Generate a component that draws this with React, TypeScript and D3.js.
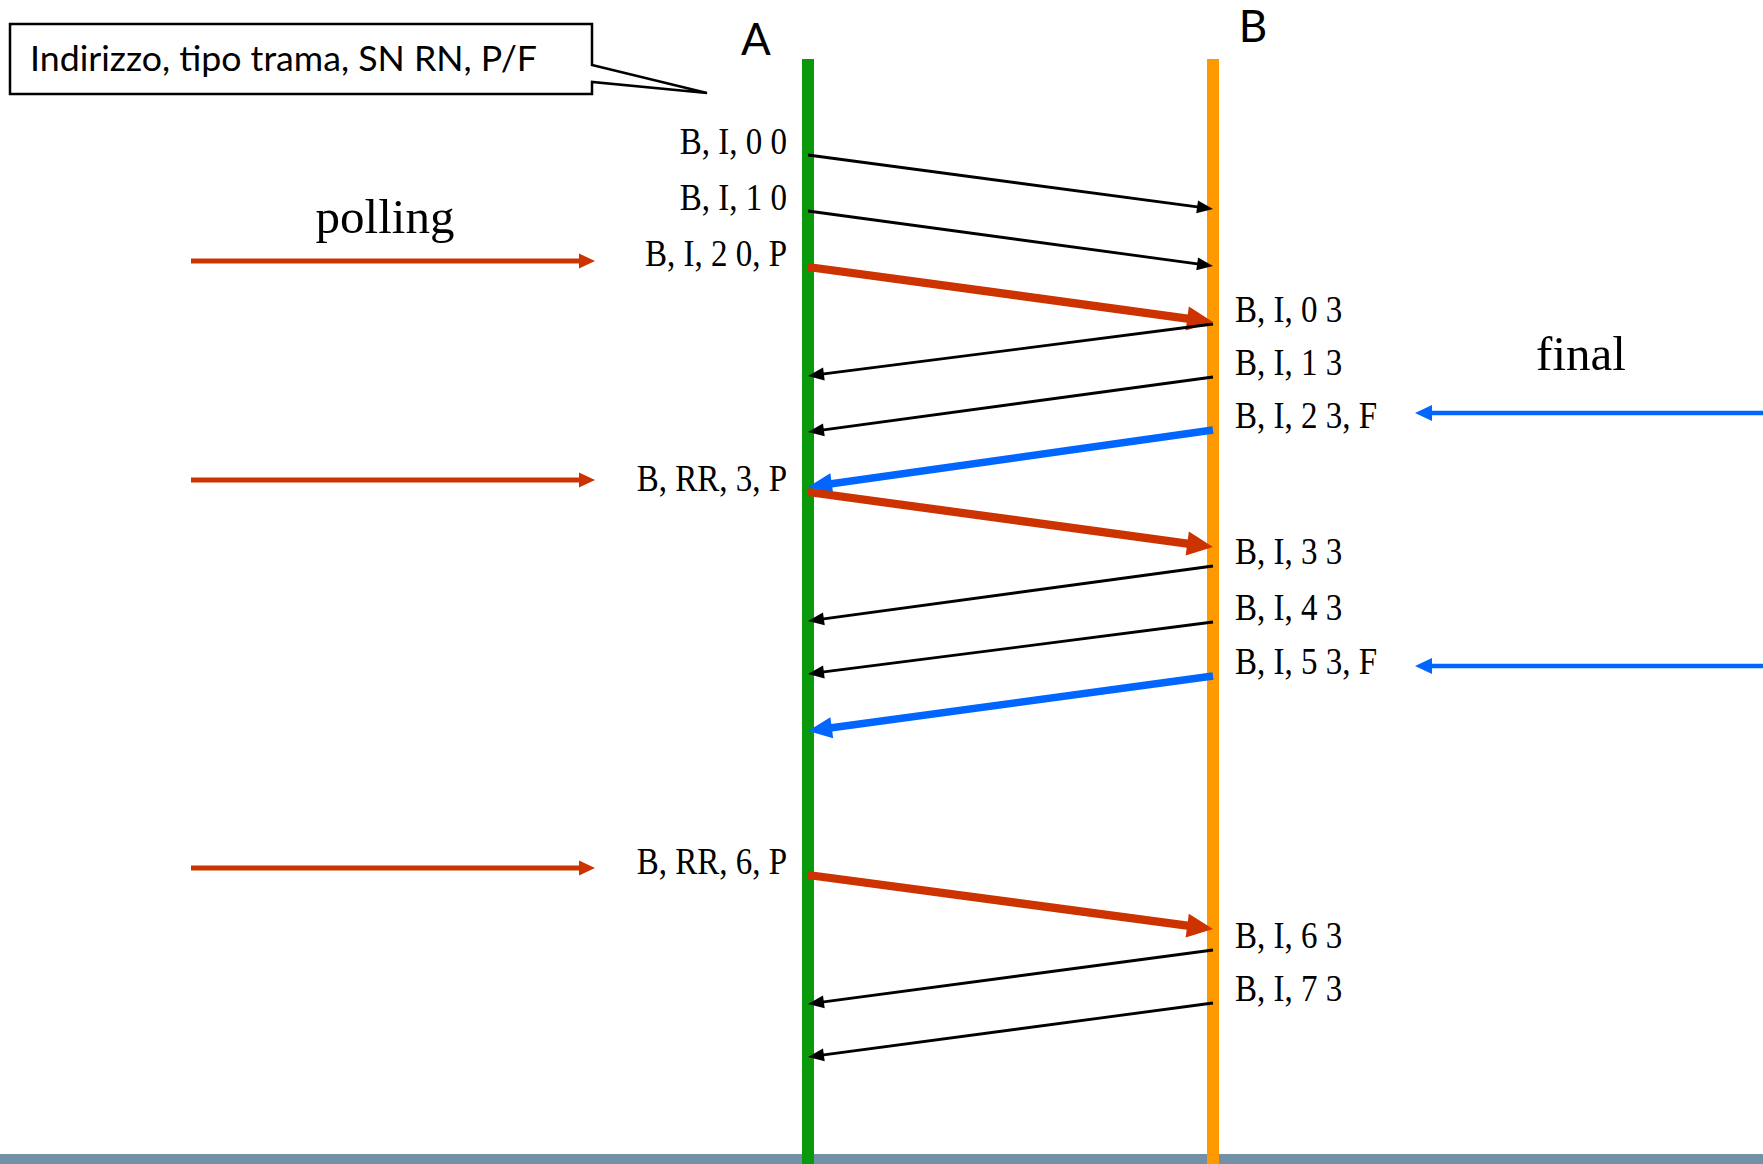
import React from "react";
import * as d3 from "d3";

const W = 1763;
const H = 1164;

// stations (vertical timelines)
const stations = ["A", "B"];

// frames exchanged: label, sender, send time, receive time, kind
const messages = [
  { label: "B, I, 0 0", from: "A", t0: 155, t1: 209, kind: "data" },
  { label: "B, I, 1 0", from: "A", t0: 211, t1: 266, kind: "data" },
  { label: "B, I, 2 0, P", from: "A", t0: 267, t1: 322, kind: "poll" },
  { label: "B, I, 0 3", from: "B", t0: 324, t1: 376, kind: "data" },
  { label: "B, I, 1 3", from: "B", t0: 377, t1: 432, kind: "data" },
  { label: "B, I, 2 3, F", from: "B", t0: 430, t1: 487, kind: "final" },
  { label: "B, RR, 3, P", from: "A", t0: 492, t1: 547, kind: "poll" },
  { label: "B, I, 3 3", from: "B", t0: 566, t1: 621, kind: "data" },
  { label: "B, I, 4 3", from: "B", t0: 622, t1: 674, kind: "data" },
  { label: "B, I, 5 3, F", from: "B", t0: 676, t1: 731, kind: "final" },
  { label: "B, RR, 6, P", from: "A", t0: 875, t1: 929, kind: "poll" },
  { label: "B, I, 6 3", from: "B", t0: 950, t1: 1004, kind: "data" },
  { label: "B, I, 7 3", from: "B", t0: 1003, t1: 1057, kind: "data" },
];

// times of the "polling" markers and the "final" markers
const pollMarks = [261, 480, 868];
const finalMarks = [413, 666];

const calloutText = "Indirizzo, tipo trama, SN RN, P/F";

const COLORS = {
  A: "#0a990a",
  B: "#ff9900",
  data: "#000000",
  poll: "#cc3300",
  final: "#0066ff",
  bar: "#7290a6",
};

const STYLE: Record<string, { w: number; len: number; half: number }> = {
  data: { w: 2.8, len: 16, half: 6.5 },
  poll: { w: 8.3, len: 26, half: 12 },
  final: { w: 7.5, len: 24, half: 10.5 },
};

const x = d3.scalePoint<string>().domain(stations).range([808, 1213]);
const y = d3.scaleLinear().domain([0, H]).range([0, H]);

function arrowPath(x0: number, y0: number, x1: number, y1: number, len: number, half: number) {
  const dx = x1 - x0;
  const dy = y1 - y0;
  const L = Math.hypot(dx, dy);
  const ux = dx / L;
  const uy = dy / L;
  const bx = x1 - ux * len;
  const by = y1 - uy * len;
  const px = -uy;
  const py = ux;
  return {
    line: d3.line()([
      [x0, y0],
      [bx + ux * 2, by + uy * 2],
    ]) as string,
    head: `M${x1},${y1}L${bx + px * half},${by + py * half}L${bx - px * half},${by - py * half}Z`,
  };
}

const SERIF = "'Liberation Serif', 'Times New Roman', serif";

export default function App() {
  const xA = x("A") as number;
  const xB = x("B") as number;
  return (
    <svg
      width={W}
      height={H}
      viewBox={`0 0 ${W} ${H}`}
      style={{ position: "absolute", left: 0, top: 0, background: "#fff" }}
    >
      <rect x={0} y={0} width={W} height={H} fill="#fff" />
      {/* bottom band */}
      <rect x={0} y={1154} width={W} height={H - 1154} fill={COLORS.bar} />

      {/* callout */}
      <path
        d="M10,24H592V65L707,93L592,82V94H10Z"
        fill="#fff"
        stroke="#000"
        strokeWidth={2.5}
        strokeLinejoin="miter"
      />
      <text
        x={30}
        y={71}
        fontFamily="Lato, 'Open Sans', sans-serif"
        fontSize={34}
        textLength={507}
        lengthAdjust="spacingAndGlyphs"
        fill="#000"
      >
        {calloutText}
      </text>

      {/* station titles */}
      <text x={756} y={55} textAnchor="middle" fontFamily="Lato, sans-serif" fontSize={44} fill="#000">
        A
      </text>
      <text x={1253} y={42} textAnchor="middle" fontFamily="Lato, sans-serif" fontSize={44} fill="#000">
        B
      </text>

      {/* timelines */}
      {stations.map((s) => (
        <line
          key={s}
          x1={x(s)}
          x2={x(s)}
          y1={y(59)}
          y2={H}
          stroke={COLORS[s as "A" | "B"]}
          strokeWidth={12}
        />
      ))}

      {/* messages */}
      {messages.map((m, i) => {
        const st = STYLE[m.kind];
        const color = COLORS[m.kind as "data" | "poll" | "final"];
        const x0 = m.from === "A" ? xA : xB;
        const x1 = m.from === "A" ? xB : xA;
        const a = arrowPath(x0, y(m.t0), x1, y(m.t1), st.len, st.half);
        const lx = m.from === "A" ? xA - 21 : xB + 22;
        const ly = y(m.t0) - (m.from === "A" ? 1 : 2);
        return (
          <g key={i}>
            <path d={a.line} stroke={color} strokeWidth={st.w} fill="none" />
            <path d={a.head} fill={color} />
            <text
              transform={`translate(${lx},${ly}) scale(0.88,1)`}
              textAnchor={m.from === "A" ? "end" : "start"}
              fontFamily={SERIF}
              fontSize={37.5}
              fill="#000"
            >
              {m.label}
            </text>
          </g>
        );
      })}

      {/* polling markers */}
      <text x={385} y={233} textAnchor="middle" fontFamily={SERIF} fontSize={49} fill="#000">
        polling
      </text>
      {pollMarks.map((t, i) => {
        const a = arrowPath(191, y(t), 595, y(t), 16, 7.5);
        return (
          <g key={i}>
            <path d={a.line} stroke={COLORS.poll} strokeWidth={5} fill="none" />
            <path d={a.head} fill={COLORS.poll} />
          </g>
        );
      })}

      {/* final markers */}
      <text x={1581} y={370} textAnchor="middle" fontFamily={SERIF} fontSize={49} fill="#000">
        final
      </text>
      {finalMarks.map((t, i) => {
        const a = arrowPath(W + 5, y(t), 1415, y(t), 17, 8);
        return (
          <g key={i}>
            <path d={a.line} stroke={COLORS.final} strokeWidth={4.5} fill="none" />
            <path d={a.head} fill={COLORS.final} />
          </g>
        );
      })}
    </svg>
  );
}
